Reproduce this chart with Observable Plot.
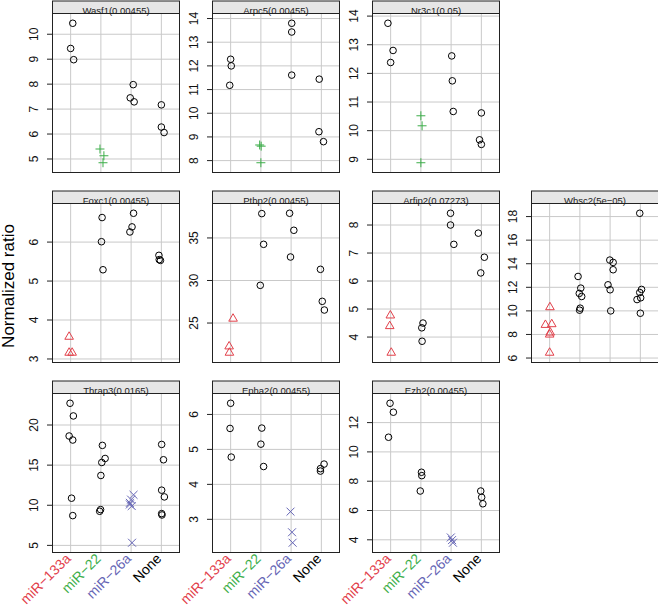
<!DOCTYPE html>
<html>
<head>
<meta charset="utf-8">
<script src="https://cdn.jsdelivr.net/npm/d3@7"></script>
<script src="https://cdn.jsdelivr.net/npm/@observablehq/plot@0.6"></script>
<style>
  html, body { margin: 0; padding: 0; background: #fff; }
  #chart { position: relative; width: 658px; height: 607px; overflow: hidden; font-family: "Liberation Sans", Arial, sans-serif; }
  #chart svg { position: absolute; overflow: visible; }
  #ylab { position: absolute; left: 9px; top: 286px; transform: translate(-50%, -50%) rotate(-90deg); font-size: 17px; white-space: nowrap; color: #000; }
</style>
</head>
<body>
<div id="chart"><div id="ylab">Normalized ratio</div></div>
<script>
// ---- data ----
const categories = ["miR\u2212133a", "miR\u221222", "miR\u221226a", "None"];
const categoryColors = ["#E2404A", "#3DAE4A", "#6565B5", "#000000"];

const wasf1 = [[10.44, 9.43, 8.98], [5.40, 5.13, 4.85], [7.98, 7.45, 7.29], [7.17, 6.28, 6.06]];
const wasf1Jitter = [[0.07, 0, 0.1], [-0.03, 0.1, 0.07], [0.07, -0.03, 0.1], [0, 0, 0.09]];

const arpc5 = [[12.28, 12.0, 11.18], [8.66, 8.61, 7.91], [13.80, 13.43, 11.61], [11.44, 9.22, 8.80]];
const arpc5Jitter = [[0, 0.02, -0.03], [-0.04, 0.01, 0], [0.02, 0.02, 0.02], [-0.07, -0.08, 0.07]];

const nr3c1 = [[13.75, 12.80, 12.38], [10.52, 10.17, 8.88], [12.61, 11.74, 10.67], [10.62, 9.68, 9.52]];
const nr3c1Jitter = [[-0.09, 0.08, 0], [0, 0.04, 0], [0.02, 0.04, 0.07], [0, -0.06, 0]];

const foxc1 = [[3.57, 3.16, 3.16], [6.63, 6.01, 5.29], [6.74, 6.39, 6.26], [5.66, 5.55, 5.53]];
const foxc1Jitter = [[-0.05, -0.05, 0.05], [0.04, 0.02, 0.07], [0.08, 0.03, -0.04], [-0.08, -0.07, -0.03]];

const ptbp2 = [[25.51, 22.25, 21.51], [37.86, 34.25, 29.43], [37.90, 35.90, 32.76], [31.31, 27.55, 26.53]];
const ptbp2Jitter = [[0.08, -0.05, -0.04], [0.03, 0.09, -0.02], [-0.05, 0.09, -0.02], [-0.03, 0.03, 0.1]];

const arfip2 = [[4.77, 4.39, 3.44], [4.50, 4.33, 3.85], [8.42, 8.0, 7.31], [7.71, 6.85, 6.29]];
const arfip2Jitter = [[-0.01, -0.03, 0.02], [0.07, 0.03, 0.04], [-0.02, -0.02, 0.09], [-0.1, 0.1, -0.02]];

const whsc2 = [[10.31, 8.81, 8.87, 8.16, 7.99, 6.45], [12.92, 11.93, 11.48, 11.22, 10.23, 10.06],
               [14.31, 14.11, 13.49, 12.21, 11.79, 10.0], [18.28, 11.82, 11.56, 11.11, 10.96, 9.80]];
const whsc2Jitter = [[0.01, -0.14, 0.07, 0.02, 0, 0], [-0.06, 0.03, -0.02, 0.06, 0.01, -0.01],
                     [-0.01, 0.1, 0.1, -0.07, 0, 0.02], [-0.02, 0.04, -0.02, 0.01, -0.11, 0]];

const thrap3 = [[22.71, 21.13, 18.63, 18.13, 10.88, 8.71], [17.46, 15.83, 15.33, 13.71, 9.46, 9.25],
                [11.3, 10.7, 10.3, 10.1, 9.9, 5.33], [17.58, 15.67, 11.88, 11.04, 8.96, 8.79]];
const thrap3Jitter = [[-0.02, 0.09, -0.05, 0.07, 0.03, 0.07], [0.05, 0.14, 0.03, 0, -0.01, -0.04],
                      [0.08, 0, -0.04, -0.04, 0.02, 0.03], [0.01, 0.07, 0.01, 0.1, 0.01, 0.02]];

const epha2 = [[6.32, 5.60, 4.78], [5.61, 5.15, 4.51], [3.22, 2.63, 2.33], [4.58, 4.45, 4.38]];
const epha2Jitter = [[0, -0.02, 0.02], [0.03, 0, 0.09], [-0.02, 0.03, 0.05], [0.09, -0.03, -0.03]];

const ezh2 = [[13.32, 12.71, 11.0], [8.61, 8.38, 7.33], [4.16, 3.98, 3.80], [7.33, 6.90, 6.46]];
const ezh2Jitter = [[-0.02, 0.09, -0.07], [0.02, 0.03, -0.02], [-0.01, 0.03, 0.06], [-0.02, 0.01, 0.05]];

const panelTitles = ["Wasf1(0.00455)", "Arpc5(0.00455)", "Nr3c1(0.05)",
                     "Foxc1(0.00455)", "Ptbp2(0.00455)", "Arfip2(0.07273)", "Whsc2(5e\u221205)",
                     "Thrap3(0.0165)", "Epha2(0.00455)", "Ezh2(0.00455)"];
const panelValues = [wasf1, arpc5, nr3c1, foxc1, ptbp2, arfip2, whsc2, thrap3, epha2, ezh2];
const panelJitter = [wasf1Jitter, arpc5Jitter, nr3c1Jitter, foxc1Jitter, ptbp2Jitter, arfip2Jitter, whsc2Jitter, thrap3Jitter, epha2Jitter, ezh2Jitter];
const panelRow = [0, 0, 0, 1, 1, 1, 1, 2, 2, 2];
const panelCol = [0, 1, 2, 0, 1, 2, 3, 0, 1, 2];
// highlighted miRNA group for each row of panels
const rowGroup = [1, 0, 2];

// ---- layout ----
const colLeft = [52, 212, 371.5, 531];
const panelTop = [13, 203, 393];
const plotW = 127, plotH = 159, stripH = 12.5;
const mL = 46, mR = 2, mT = 14;
const symbols = ["triangle", "plus", "times"];
const symbolR = [3.2, 3.0, 3.7];
const gridColor = "#c9c9c9";
const font = "Liberation Sans, Arial, sans-serif";

const chart = document.getElementById("chart");

panelTitles.forEach((title, p) => {
  const row = panelRow[p], col = panelCol[p];
  const bottom = row === 2;
  const mB = bottom ? 60 : 3;
  const data = [];
  panelValues[p].forEach((vals, g) => vals.forEach((v, i) => data.push({g, x: g + 1 + panelJitter[p][g][i], y: v})));
  const [lo, hi] = d3.extent(data, d => d.y);
  const pad = (hi - lo) * 0.07;
  const domain = [lo - pad, hi + pad];
  const ticks = d3.ticks(domain[0], domain[1], 5);
  const hg = rowGroup[row];
  const plain = data.filter(d => d.g !== hg);
  const hl = data.filter(d => d.g === hg);

  const marks = [
    Plot.ruleY(ticks, {y: d => d, stroke: gridColor, strokeOpacity: 1}),
    Plot.ruleX([1, 2, 3, 4], {x: d => d, stroke: gridColor, strokeOpacity: 1}),
    Plot.frame({stroke: "#222", strokeWidth: 1}),
    Plot.frame({fill: "#e6e6e6", stroke: "#222", strokeWidth: 1, insetTop: -stripH, insetBottom: plotH}),
    Plot.text([title], {text: d => d, frameAnchor: "top", dy: -stripH / 2, fontSize: 9.5, fill: "#222", fontFamily: font}),
    Plot.dot(plain, {x: "x", y: "y", r: 3.3, stroke: "#000", strokeWidth: 1, fill: "none"}),
    Plot.dot(hl, {x: "x", y: "y", r: symbolR[hg], symbol: symbols[hg], stroke: categoryColors[hg], strokeWidth: 1, fill: "none"}),
    // y tick marks just outside the panel's left edge
    Plot.ruleY(ticks, {y: d => d, stroke: "#222", insetLeft: -5, insetRight: plotW}),
    // rotated y tick labels
    Plot.text(ticks, {y: d => d, text: d => String(d), frameAnchor: "left", dx: -15, rotate: -90,
      textAnchor: "middle", lineAnchor: "bottom", fontSize: 12, fill: "#111", fontFamily: font})
  ];
  if (bottom) {
    marks.push(Plot.text(categories, {
      x: (d, i) => i + 1, text: d => d, frameAnchor: "bottom",
      rotate: -45, textAnchor: "end", dy: 7, dx: 1, fontSize: 14, fontFamily: font,
      fill: (d, i) => categoryColors[i]
    }));
  }

  const svg = Plot.plot({
    width: mL + plotW + mR,
    height: mT + plotH + mB,
    marginLeft: mL, marginRight: mR, marginTop: mT, marginBottom: mB,
    x: {domain: [0.4, 4.6], axis: null},
    y: {domain, axis: null},
    color: {type: "identity"},
    style: {fontFamily: font, background: "transparent", overflow: "visible"},
    marks
  });
  svg.style.left = (colLeft[col] - mL) + "px";
  svg.style.top = (panelTop[row] - mT) + "px";
  chart.appendChild(svg);
});
</script>
</body>
</html>
